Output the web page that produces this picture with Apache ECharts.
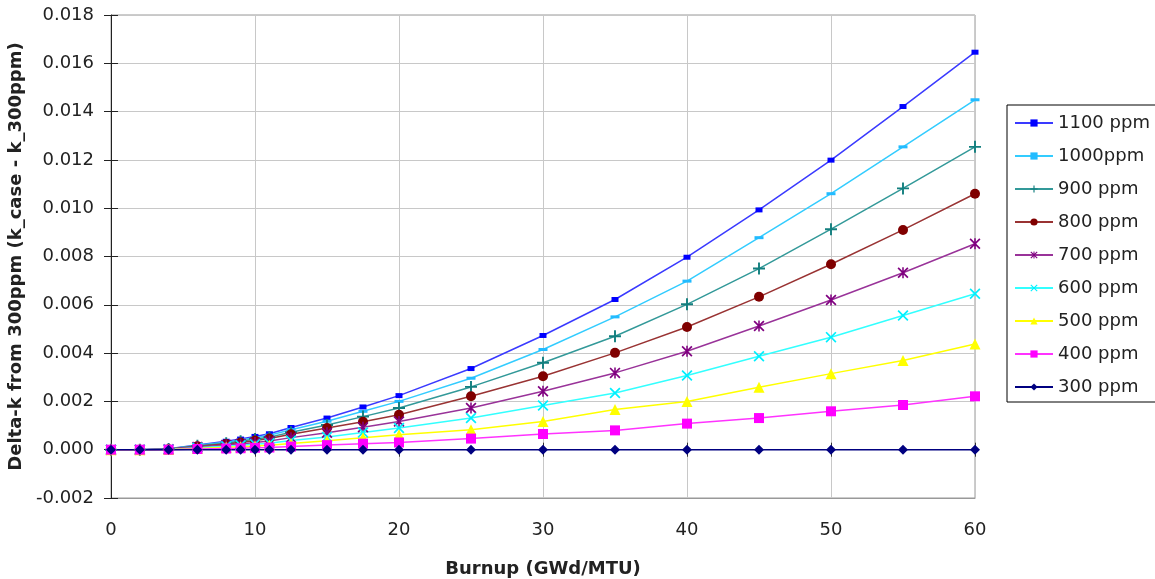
<!DOCTYPE html>
<html>
<head>
<meta charset="utf-8">
<script src="https://cdn.jsdelivr.net/npm/echarts@6/dist/echarts.min.js"></script>
<style>
	html, body { margin: 0; padding: 0; background: #fff; }
	#charts { width: 1155px; height: 579px; }
</style>
</head>
<body>
<div id="charts"></div>
<script>
// burnup points (GWd/MTU)
const burnup = [0, 2, 4, 6, 8, 9, 10, 11, 12.5, 15, 17.5, 20, 25, 30, 35, 40, 45, 50, 55, 60]

const ppm1100 = [0, 0, 0.00004, 0.0002, 0.00035, 0.00044, 0.00055, 0.00066, 0.00092, 0.00131, 0.00177, 0.00224, 0.00336, 0.00473, 0.00622, 0.00797, 0.00993, 0.01199, 0.01421, 0.01646]
const ppm1000 = [0, 0, 0.00003, 0.00018, 0.00031, 0.0004, 0.0005, 0.0006, 0.00083, 0.00118, 0.00159, 0.002, 0.00296, 0.00415, 0.0055, 0.00698, 0.00878, 0.0106, 0.01254, 0.01449]
const ppm900 = [0, 0, 0.00003, 0.00016, 0.00027, 0.00035, 0.00044, 0.00052, 0.00072, 0.00102, 0.00137, 0.00173, 0.0026, 0.0036, 0.0047, 0.00602, 0.0075, 0.00913, 0.01082, 0.01254]
const ppm800 = [0, 0, 0.00002, 0.00014, 0.00024, 0.0003, 0.00038, 0.00046, 0.00064, 0.0009, 0.00116, 0.00145, 0.00221, 0.00304, 0.00401, 0.00508, 0.00633, 0.00768, 0.0091, 0.0106]
const ppm700 = [0, 0, 0.00002, 0.00011, 0.00019, 0.00024, 0.0003, 0.00036, 0.0005, 0.0007, 0.00093, 0.00117, 0.00173, 0.00242, 0.00318, 0.00408, 0.00512, 0.0062, 0.00733, 0.00853]
const ppm600 = [0, 0, 0.00001, 0.00008, 0.00014, 0.00018, 0.00023, 0.00027, 0.00038, 0.00053, 0.00071, 0.0009, 0.00131, 0.00183, 0.00235, 0.00307, 0.00387, 0.00466, 0.00556, 0.00646]
const ppm500 = [0, 0, 0.00001, 0.00005, 0.0001, 0.00012, 0.00015, 0.00018, 0.00026, 0.00037, 0.00049, 0.00062, 0.00083, 0.00117, 0.00166, 0.002, 0.00259, 0.00315, 0.00369, 0.00438]
const ppm400 = [0, 0, 0, 0.00003, 0.00005, 0.00006, 0.00008, 0.00009, 0.00013, 0.00019, 0.00025, 0.0003, 0.00046, 0.00065, 0.0008, 0.00108, 0.00131, 0.00159, 0.00185, 0.00221]
const ppm300 = [0, 0, 0, 0, 0, 0, 0, 0, 0, 0, 0, 0, 0, 0, 0, 0, 0, 0, 0, 0]

const seriesNames = ['1100 ppm', '1000ppm', '900 ppm', '800 ppm', '700 ppm', '600 ppm', '500 ppm', '400 ppm', '300 ppm']

const FONT = '"DejaVu Sans", "Liberation Sans", sans-serif'

const PLUS = 'path://M4.2,0H5.8V4.2H10V5.8H5.8V10H4.2V5.8H0V4.2H4.2Z'
const CROSS = 'path://M0,1.1L1.1,0L5,3.9L8.9,0L10,1.1L6.1,5L10,8.9L8.9,10L5,6.1L1.1,10L0,8.9L3.9,5Z'
const STAR = CROSS + 'M4.3,0H5.7V10H4.3Z'
const DASH = 'path://M0,0H10V3.5H0Z'

const styles = [
	{ line: '#3a3aff', mark: '#0000ff', symbol: 'rect', size: [7, 5] },
	{ line: '#33ccff', mark: '#22bbff', symbol: DASH, size: [9, 3] },
	{ line: '#339999', mark: '#137f7f', symbol: PLUS, size: 12 },
	{ line: '#993333', mark: '#800000', symbol: 'circle', size: 10 },
	{ line: '#993399', mark: '#800080', symbol: STAR, size: 11 },
	{ line: '#33ffff', mark: '#00f0ff', symbol: CROSS, size: 11 },
	{ line: '#ffff00', mark: '#ffff00', symbol: 'triangle', size: 11 },
	{ line: '#ff33ff', mark: '#ff00ff', symbol: 'rect', size: 10 },
	{ line: '#000080', mark: '#000080', symbol: 'diamond', size: 10 }
]

const values = [ppm1100, ppm1000, ppm900, ppm800, ppm700, ppm600, ppm500, ppm400, ppm300]

const chart = echarts.init(document.getElementById('charts'))

const series = seriesNames.map((name, i) => ({
	name: name,
	type: 'line',
	data: burnup.map((x, j) => [x, values[i][j]]),
	symbol: styles[i].symbol,
	symbolSize: styles[i].size,
	showAllSymbol: true,
	lineStyle: { color: styles[i].line, width: 1.5 },
	itemStyle: { color: styles[i].mark },
	animation: false
}))

chart.setOption({
	backgroundColor: '#fff',
	grid: {
		left: 111,
		right: 180,
		top: 15,
		bottom: 81,
		outerBoundsMode: 'none',
		show: true,
		borderColor: '#999',
		borderWidth: 1
	},
	legend: {
		data: seriesNames,
		orient: 'vertical',
		left: 1007,
		top: 105,
		itemWidth: 38,
		itemHeight: 9,
		itemGap: 15,
		padding: [9, 8, 6, 7],
		borderColor: '#000',
		borderWidth: 1,
		textStyle: { fontSize: 18, fontFamily: FONT, color: '#222' }
	},
	xAxis: [
		{
			type: 'value',
			min: 0,
			max: 60,
			interval: 10,
			name: 'Burnup (GWd/MTU)',
			nameLocation: 'middle',
			nameGap: 62,
			nameTextStyle: { fontSize: 18, fontWeight: 'bold', fontFamily: FONT, color: '#222' },
			axisLine: { onZero: false, lineStyle: { color: '#999' } },
			axisTick: { show: false },
			axisLabel: { fontSize: 18, fontFamily: FONT, color: '#222', margin: 23 },
			splitLine: { show: true, lineStyle: { color: '#c8c8c8', width: 1 } }
		},
		{
			// crossing ticks on the zero line
			type: 'value',
			min: 0,
			max: 60,
			interval: 10,
			position: 'bottom',
			axisLine: { onZero: true, lineStyle: { color: '#333' } },
			axisTick: { show: true, length: 7, lineStyle: { color: '#333' } },
			axisLabel: { show: false },
			splitLine: { show: false }
		},
		{
			type: 'value',
			min: 0,
			max: 60,
			interval: 10,
			position: 'bottom',
			axisLine: { onZero: true, lineStyle: { color: '#333' } },
			axisTick: { show: true, inside: true, length: 7, lineStyle: { color: '#333' } },
			axisLabel: { show: false },
			splitLine: { show: false }
		}
	],
	yAxis: [
		{
			type: 'value',
			min: -0.002,
			max: 0.018,
			interval: 0.002,
			name: 'Delta-k from 300ppm (k_case - k_300ppm)',
			nameLocation: 'middle',
			nameGap: 78,
			nameTextStyle: { fontSize: 18, fontWeight: 'bold', fontFamily: FONT, color: '#222' },
			axisLine: { show: true, lineStyle: { color: '#222' } },
			axisTick: { show: true, length: 7, lineStyle: { color: '#222' } },
			axisLabel: {
				fontSize: 18,
				fontFamily: FONT,
				color: '#222',
				margin: 17,
				formatter: v => v.toFixed(3)
			},
			splitLine: { show: true, lineStyle: { color: '#c8c8c8', width: 1 } }
		},
		{
			type: 'value',
			min: -0.002,
			max: 0.018,
			interval: 0.002,
			position: 'left',
			axisLine: { show: false },
			axisTick: { show: true, inside: true, length: 7, lineStyle: { color: '#222' } },
			axisLabel: { show: false },
			splitLine: { show: false }
		}
	],
	series: series
})
</script>
</body>
</html>
